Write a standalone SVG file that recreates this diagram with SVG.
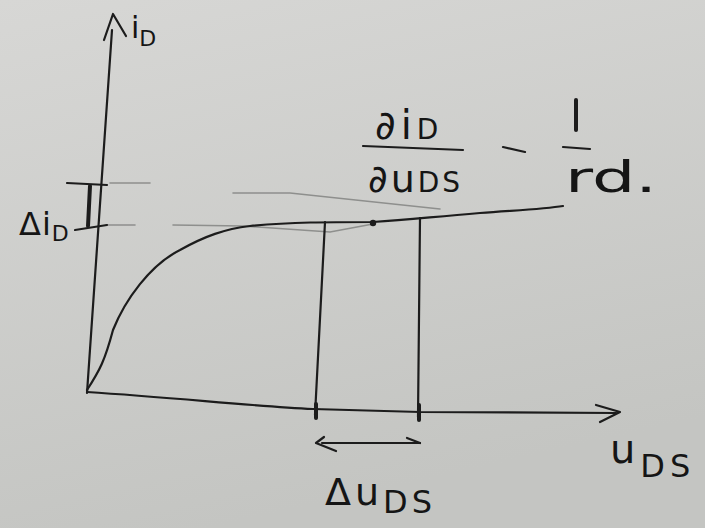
<svg xmlns="http://www.w3.org/2000/svg" width="705" height="528" viewBox="0 0 705 528">
<defs>
<linearGradient id="bg" x1="0" y1="0" x2="0.3" y2="1">
<stop offset="0" stop-color="#d7d7d5"/>
<stop offset="1" stop-color="#c4c5c2"/>
</linearGradient>
<style>
.ink{fill:none;stroke:#1c1c1c;stroke-width:2.2;stroke-linecap:round;stroke-linejoin:round}
.thick{fill:none;stroke:#1c1c1c;stroke-width:4;stroke-linecap:round}
.pencil{fill:none;stroke:#8e8f8d;stroke-width:1.6;stroke-linecap:round}
.t{font-family:"DejaVu Sans","Liberation Sans",sans-serif;fill:#151515}
</style>
</defs>
<rect width="705" height="528" fill="url(#bg)"/>
<g id="axes">
<path class="ink" d="M87,393 L112,30"/>
<path class="ink" d="M104,40 L113,14 L126,36"/>
<path class="ink" d="M87,392 C180,398 250,406 313,409 L420,412 L616,413"/>
<path class="ink" d="M596,405 L620,412 L600,422"/>
</g>
<g id="guides">
<path class="pencil" d="M110,183 L150,183"/>
<path class="pencil" d="M106,225 L135,225"/>
<path class="pencil" d="M173,225 L243,226 L330,232 L373,224"/>
<path class="pencil" d="M233,193 L290,193 L440,209"/>
</g>
<g id="curve">
<path class="ink" d="M87,390 C100,370 105,360 113,330 C125,300 150,265 180,250 C205,236 225,229 250,226 C290,222 330,222 373,222 C410,220 430,217 480,213 C520,210 545,209 563,206"/>
<circle cx="373" cy="223" r="3.2" fill="#1c1c1c"/>
</g>
<g id="verticals">
<path class="ink" d="M325,222 L315,415"/>
<path class="ink" d="M420,218 L418,417"/>
<path class="thick" d="M316,404 L316,418"/>
<path class="thick" d="M419,405 L419,420"/>
</g>
<g id="delta-i">
<path class="ink" d="M67,183 L107,185"/>
<path class="thick" d="M90,186 L88,226"/>
<path class="ink" d="M75,230 L107,225"/>
<text class="t" x="19" y="235" font-size="32" letter-spacing="1">Δi<tspan font-size="22" dy="6">D</tspan></text>
</g>
<g id="y-label">
<text class="t" x="131" y="38" font-size="30">i<tspan font-size="22" dy="8">D</tspan></text>
</g>
<g id="formula">
<text class="t" x="375" y="139" font-size="40" letter-spacing="5">∂i<tspan font-size="28" dy="0">D</tspan></text>
<path class="ink" d="M363,146 L463,150"/>
<text class="t" x="368" y="192" font-size="38" letter-spacing="3">∂u<tspan font-size="28" dy="0">DS</tspan></text>
<path class="ink" d="M503,147 L525,152"/>
<path class="thick" d="M576,100 L576,130" stroke-width="3"/>
<path class="ink" d="M563,147 L590,149"/>
<text class="t" x="565" y="192" font-size="42" textLength="92" lengthAdjust="spacingAndGlyphs">rd.</text>
</g>
<g id="delta-u">
<path class="ink" d="M322,443 L420,443"/>
<path class="ink" d="M324,437 L316,443 L336,451"/>
<path class="ink" d="M407,438 L420,443"/>
<text class="t" x="325" y="505" font-size="38" letter-spacing="4">Δu<tspan font-size="32" dy="8">DS</tspan></text>
</g>
<g id="x-label">
<text class="t" x="610" y="463" font-size="40" letter-spacing="5">u<tspan font-size="32" dy="14">DS</tspan></text>
</g>
</svg>
